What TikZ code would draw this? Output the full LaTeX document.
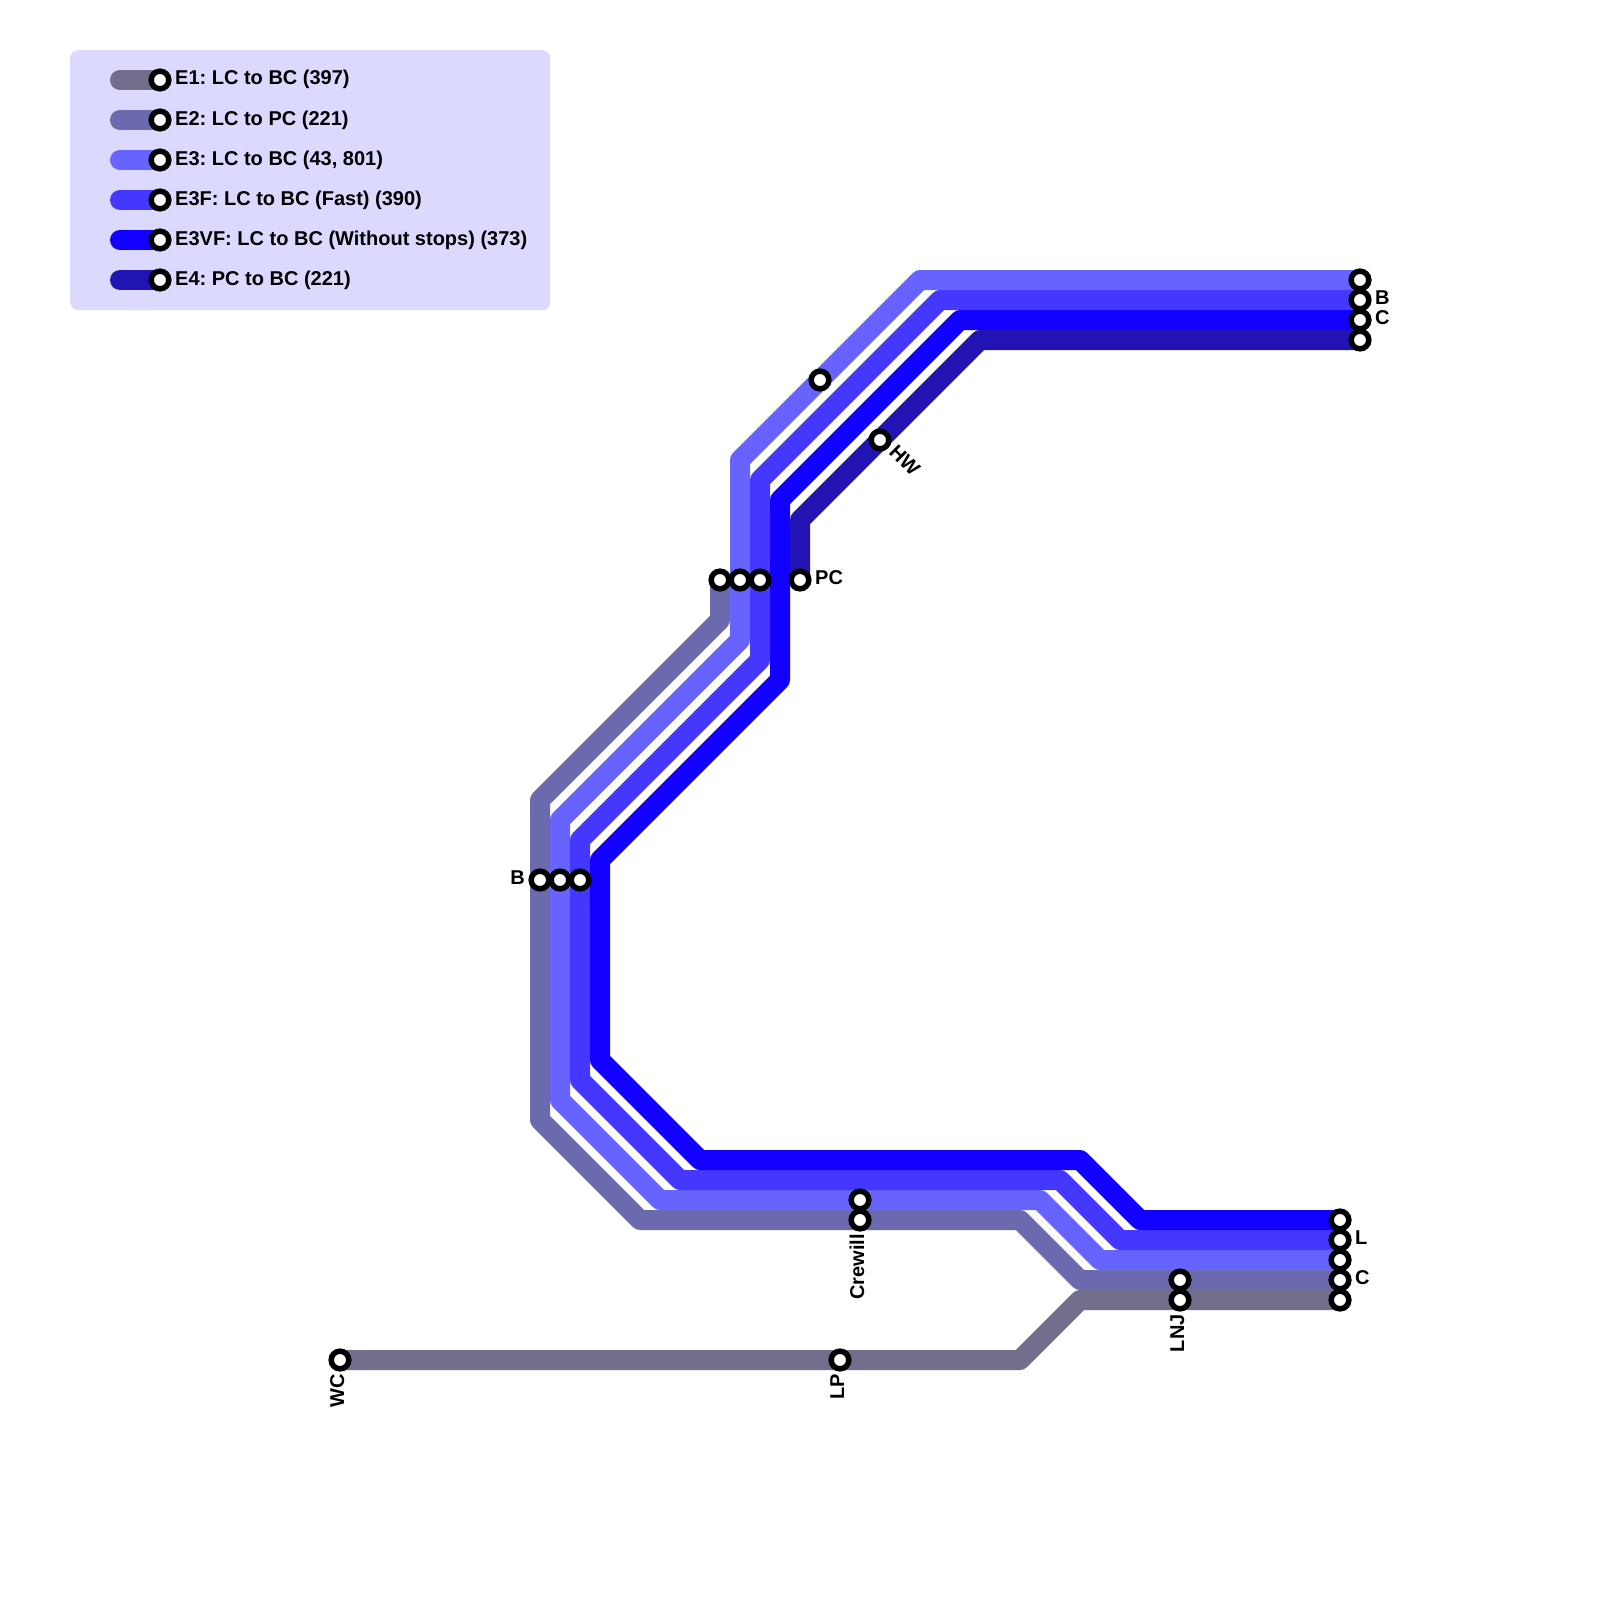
\documentclass[tikz,border=0pt]{standalone}
\usepackage{fontspec}
\setmainfont{Liberation Sans}
\usetikzlibrary{backgrounds}

\definecolor{colEone}{HTML}{726F8C}
\definecolor{colEtwo}{HTML}{6C6AAE}
\definecolor{colEthree}{HTML}{6663FF}
\definecolor{colEthreeF}{HTML}{4438FF}
\definecolor{colEthreeVF}{HTML}{1100FF}
\definecolor{colEfour}{HTML}{2114B3}
\definecolor{colLegend}{HTML}{DCD9FF}

\begin{document}
\begin{tikzpicture}[
    x=1pt,
    y=-1pt,
    station/.style={
        draw=black,
        fill=white,
        circle,
        line width=5.5pt,
        minimum size=17.67pt,
        inner sep=0pt,
        outer sep=0pt
    },
    name label/.style={
        font=\fontsize{20}{24}\selectfont\bfseries\frenchspacing,
        inner sep=0pt,
        anchor=base west
    },
    route/.style={
        line width=20pt,
        line cap=round,
        line join=round
    },
    legendbox/.style={
        fill=colLegend,
        rounded corners=8pt,
        anchor=north west,
        minimum width=480pt,
        minimum height=260pt,
        inner sep=0pt
    }
]
\useasboundingbox (0,0) rectangle (1600,1600);

% Legend
\coordinate (startEone) at (120,80);
\coordinate (startEtwo) at (120,120);
\coordinate (startEthree) at (120,160);
\coordinate (startEthreeF) at (120,200);
\coordinate (startEthreeVF) at (120,240);
\coordinate (startEfour) at (120,280);

\node[station] (keyEone) at (160,80) {};
\node[station] (keyEtwo) at (160,120) {};
\node[station] (keyEthree) at (160,160) {};
\node[station] (keyEthreeF) at (160,200) {};
\node[station] (keyEthreeVF) at (160,240) {};
\node[station] (keyEfour) at (160,280) {};

\node[name label] (textEone) at (175,85) {E1: LC to BC (397)};
\node[name label] (textEtwo) at (175,125) {E2: LC to PC (221)};
\node[name label] (textEthree) at (175,165) {E3: LC to BC (43, 801)};
\node[name label] (textEthreeF) at (175,205) {E3F: LC to BC (Fast) (390)};
\node[name label] (textEthreeVF) at (175,245) {E3VF: LC to BC (Without stops) (373)};
\node[name label] (textEfour) at (175,285) {E4: PC to BC (221)};

% Stations, left
\node[station] (wc) at (340,1360) {};
\node[station] (lp) at (840,1360) {};
\node[station] (crewillTwo) at (860,1220) {};
\node[station] (crewillThree) at (860,1200) {};
\node[station] (lnjOne) at (1180,1300) {};
\node[station] (lnjTwo) at (1180,1280) {};

\node[station] (bTwo) at (540,880) {};
\node[station] (bThree) at (560,880) {};
\node[station] (bThreeF) at (580,880) {};

% Stations, middle
\node[station] (pcTwo) at (720,580) {};
\node[station] (pcThree) at (740,580) {};
\node[station] (pcThreeF) at (760,580) {};
\node[station] (pcFour) at (800,580) {};
\node[station] (midThree) at (820,380) {};
\node[station] (hw) at (880,440) {};

% Stations, right
\node[station] (topThree) at (1360,280) {};
\node[station] (topThreeF) at (1360,300) {};
\node[station] (topThreeVF) at (1360,320) {};
\node[station] (topFour) at (1360,340) {};

\node[station] (lowThreeVF) at (1340,1220) {};
\node[station] (lowThreeF) at (1340,1240) {};
\node[station] (lowThree) at (1340,1260) {};
\node[station] (lowTwo) at (1340,1280) {};
\node[station] (lowOne) at (1340,1300) {};

% Labels
\node[name label] (labelTopB) at (1375,304) {B};
\node[name label] (labelTopC) at (1375,324) {C};
\node[name label] (labelL) at (1355,1244) {L};
\node[name label] (labelC) at (1355,1284) {C};
\node[name label] (labelPC) at (815,584) {PC};
\node[name label, anchor=base east] (labelB) at (525,884) {B};
\node[name label, rotate=-45] (labelHW) at (888,453) {HW};
\node[name label, rotate=90, anchor=base east] (labelCrewill) at (864,1234) {Crewill};
\node[name label, rotate=90, anchor=base east] (labelLNJ) at (1184,1314) {LNJ};
\node[name label, rotate=90, anchor=base east] (labelLP) at (844,1374) {LP};
\node[name label, rotate=90, anchor=base east] (labelWC) at (344,1374) {WC};

% Routes
\begin{scope}[on background layer]
\node[legendbox] (legend) at (70,50) {};

\draw[route, colEone] (startEone) -- (keyEone.center);
\draw[route, colEtwo] (startEtwo) -- (keyEtwo.center);
\draw[route, colEthree] (startEthree) -- (keyEthree.center);
\draw[route, colEthreeF] (startEthreeF) -- (keyEthreeF.center);
\draw[route, colEthreeVF] (startEthreeVF) -- (keyEthreeVF.center);
\draw[route, colEfour] (startEfour) -- (keyEfour.center);

\draw[route, colEone] (wc.center) -- (1020,1360) -- (1080,1300) -- (lowOne.center);
\draw[route, colEtwo] (lowTwo.center) -- (1080,1280) -- (1020,1220) -- (640,1220)
    -- (540,1120) -- (540,800) -- (720,620) -- (pcTwo.center);
\draw[route, colEthree] (lowThree.center) -- (1100,1260) -- (1040,1200) -- (660,1200)
    -- (560,1100) -- (560,820) -- (740,640) -- (740,460) -- (920,280) -- (topThree.center);
\draw[route, colEthreeF] (lowThreeF.center) -- (1120,1240) -- (1060,1180) -- (680,1180)
    -- (580,1080) -- (580,840) -- (760,660) -- (760,480) -- (940,300) -- (topThreeF.center);
\draw[route, colEthreeVF] (lowThreeVF.center) -- (1140,1220) -- (1080,1160) -- (700,1160)
    -- (600,1060) -- (600,860) -- (780,680) -- (780,500) -- (960,320) -- (topThreeVF.center);
\draw[route, colEfour] (pcFour.center) -- (800,520) -- (980,340) -- (topFour.center);
\end{scope}

\end{tikzpicture}
\end{document}
